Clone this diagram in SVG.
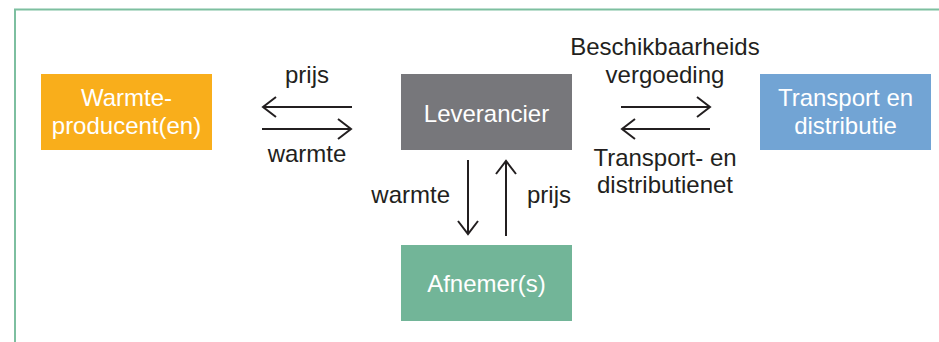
<svg xmlns="http://www.w3.org/2000/svg" width="939" height="342" viewBox="0 0 939 342">
<style>
  .box-text { font-family: "Liberation Sans", Arial, sans-serif; font-size: 24px; fill: #ffffff; text-anchor: middle; }
  .label { font-family: "Liberation Sans", Arial, sans-serif; font-size: 24px; fill: #231f20; }
  .line { stroke: #231f20; stroke-width: 2; fill: none; }
</style>
<defs>
  <marker id="arrow" markerUnits="userSpaceOnUse" markerWidth="18" markerHeight="26" viewBox="0 0 18 26" refX="15" refY="13" orient="auto">
    <polyline points="2,3 15,13 2,23" fill="none" stroke="#231f20" stroke-width="2"/>
  </marker>
</defs>
<rect width="939" height="342" fill="#ffffff"/>
<rect id="frame" x="15" y="9.5" width="1000" height="1000" fill="none" stroke="#7dbfa0" stroke-width="2"/>

<g id="producent">
  <rect x="41" y="74" width="171" height="76" fill="#f9ae1b"/>
  <text class="box-text" x="126.5" y="106">Warmte-</text>
  <text class="box-text" x="126.5" y="134">producent(en)</text>
</g>
<g id="leverancier">
  <rect x="401" y="74" width="171" height="76" fill="#77777b"/>
  <text class="box-text" x="486.5" y="122">Leverancier</text>
</g>
<g id="transport">
  <rect x="760" y="74" width="171" height="76" fill="#72a4d4"/>
  <text class="box-text" x="845.5" y="106">Transport en</text>
  <text class="box-text" x="845.5" y="134">distributie</text>
</g>
<g id="afnemer">
  <rect x="401" y="245" width="171" height="76" fill="#72b598"/>
  <text class="box-text" x="486.5" y="292">Afnemer(s)</text>
</g>

<g id="connectors">
  <line class="line" x1="352" y1="107" x2="263" y2="107" marker-end="url(#arrow)"/>
  <line class="line" x1="262" y1="129" x2="351" y2="129" marker-end="url(#arrow)"/>
  <line class="line" x1="621" y1="107" x2="710" y2="107" marker-end="url(#arrow)"/>
  <line class="line" x1="710" y1="129" x2="622" y2="129" marker-end="url(#arrow)"/>
  <line class="line" x1="468" y1="160" x2="468" y2="234" marker-end="url(#arrow)"/>
  <line class="line" x1="506" y1="236" x2="506" y2="161" marker-end="url(#arrow)"/>
  <text class="label" x="307" y="83" text-anchor="middle">prijs</text>
  <text class="label" x="307" y="162" text-anchor="middle">warmte</text>
  <text class="label" x="665" y="55" text-anchor="middle">Beschikbaarheids</text>
  <text class="label" x="665" y="83" text-anchor="middle">vergoeding</text>
  <text class="label" x="665" y="166" text-anchor="middle">Transport- en</text>
  <text class="label" x="665" y="193" text-anchor="middle">distributienet</text>
  <text class="label" x="450" y="203" text-anchor="end">warmte</text>
  <text class="label" x="527" y="203">prijs</text>
</g>
</svg>
